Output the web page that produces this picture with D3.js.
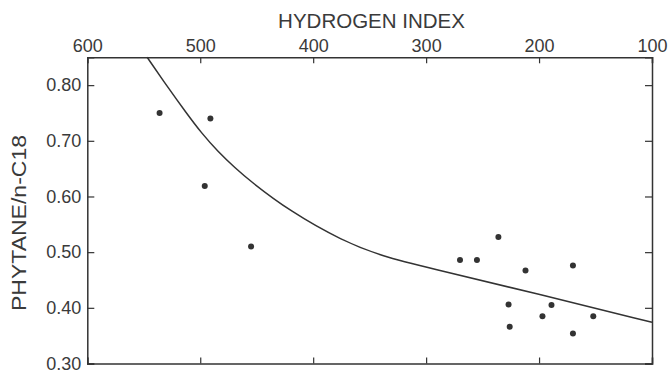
<!DOCTYPE html>
<html>
<head>
<meta charset="utf-8">
<script src="https://cdn.jsdelivr.net/npm/d3@7"></script>
<style>
  body { margin: 0; background: #fff; }
  text { font-family: "Liberation Sans", Arial, Helvetica, sans-serif; fill: #3a3a3a; }
</style>
</head>
<body>
<div id="chart"></div>
<script>
// data
const xTicks = [600, 500, 400, 300, 200, 100];
const yTicks = [0.30, 0.40, 0.50, 0.60, 0.70, 0.80];

// measured samples (hydrogen index, phytane/n-C18)
const sampleHI = [536, 491, 496, 455, 270, 255, 236, 212, 170, 227, 226, 189, 197, 152, 170];
const sampleRatio = [0.750, 0.740, 0.619, 0.510, 0.486, 0.486, 0.527, 0.467, 0.476, 0.406, 0.366, 0.405, 0.385, 0.385, 0.354];

// fitted trend curve
const curveHI = [547, 528, 513, 499, 484, 469, 456, 421, 374, 338, 300, 199, 100];
const curveRatio = [0.850, 0.794, 0.752, 0.714, 0.680, 0.651, 0.628, 0.574, 0.520, 0.492, 0.473, 0.424, 0.374];

const W = 669, H = 371;
const margin = { top: 57.3, right: 17, bottom: 7.5, left: 87.3 };
const width = W - margin.left - margin.right;
const height = H - margin.top - margin.bottom;

const svg = d3.select("#chart").append("svg")
    .attr("width", W)
    .attr("height", H);
const g = svg.append("g")
    .attr("transform", `translate(${margin.left},${margin.top})`);

const x = d3.scaleLinear().domain([600, 100]).range([0, width]);
const y = d3.scaleLinear().domain([0.30, 0.85]).range([height, 0]);

const ink = "#333";

// axes, ticks pointing into the frame
const axTop = g.append("g")
    .call(d3.axisTop(x).tickValues(xTicks).tickSize(-6).tickPadding(5).tickFormat(d3.format("d")));
const axLeft = g.append("g")
    .call(d3.axisLeft(y).tickValues(yTicks).tickSize(-7).tickPadding(6).tickFormat(d3.format(".2f")));
const axBottom = g.append("g")
    .attr("transform", `translate(0,${height})`)
    .call(d3.axisBottom(x).tickValues(xTicks).tickSize(-6).tickFormat(""));
const axRight = g.append("g")
    .attr("transform", `translate(${width},0)`)
    .call(d3.axisRight(y).tickValues(yTicks).tickSize(-7).tickFormat(""));

[axTop, axLeft, axBottom, axRight].forEach(a => {
    a.select(".domain").attr("stroke", ink).attr("stroke-width", 1.5);
    a.selectAll(".tick line").attr("stroke", ink).attr("stroke-width", 1.2);
    a.selectAll(".tick text").style("font-size", "18px").attr("fill", "#3a3a3a");
});

// trend curve
const pts = curveHI.map((h, i) => ({ h, r: curveRatio[i] }));
g.append("path")
    .datum(pts)
    .attr("fill", "none")
    .attr("stroke", ink)
    .attr("stroke-width", 1.5)
    .attr("d", d3.line()
        .x(d => x(d.h))
        .y(d => y(d.r))
        .curve(d3.curveBasis));

// sample points
g.selectAll(".dot")
    .data(sampleHI.map((h, i) => ({ h, r: sampleRatio[i] })))
    .enter()
    .append("circle")
    .attr("class", "dot")
    .attr("cx", d => x(d.h))
    .attr("cy", d => y(d.r))
    .attr("r", 3)
    .attr("fill", ink);

// axis titles
svg.append("text")
    .text("HYDROGEN INDEX")
    .attr("x", 371.5)
    .attr("y", 28.3)
    .attr("text-anchor", "middle")
    .style("font-size", "20.5px");

svg.append("text")
    .text("PHYTANE/n-C18")
    .attr("transform", "translate(26,223) rotate(-90)")
    .attr("text-anchor", "middle")
    .attr("textLength", 176)
    .attr("lengthAdjust", "spacingAndGlyphs")
    .style("font-size", "21px");
</script>
</body>
</html>
